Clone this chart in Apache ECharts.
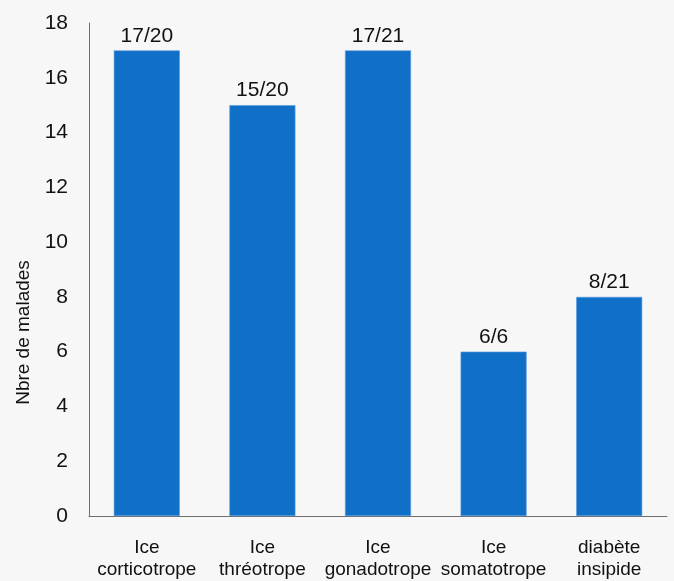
<!DOCTYPE html>
<html>
<head>
<meta charset="utf-8">
<script src="https://cdn.jsdelivr.net/npm/echarts@6/dist/echarts.min.js"></script>
<style>
html,body{margin:0;padding:0;background:#f7f7f7;}
#c{width:674px;height:581px;}
</style>
</head>
<body>
<div id="c"></div>
<script>
const categories = ['Ice\ncorticotrope', 'Ice\nthréotrope', 'Ice\ngonadotrope', 'Ice\nsomatotrope', 'diabète\ninsipide'];
const values = [17, 15, 17, 6, 8];
const barLabels = ['17/20', '15/20', '17/21', '6/6', '8/21'];
const yTicks = [0, 2, 4, 6, 8, 10, 12, 14, 16, 18];

const chart = echarts.init(document.getElementById('c'), null, {renderer: 'canvas'});
chart.setOption({
  backgroundColor: '#f7f7f7',
  animation: false,
  grid: {left: 89, right: 7, top: 23, bottom: 62, containLabel: false},
  xAxis: {
    type: 'category',
    data: categories,
    axisLine: {show: true, lineStyle: {color: '#6e6e6e', width: 1}},
    axisTick: {show: false},
    axisLabel: {
      color: '#111',
      fontFamily: 'Liberation Sans, Arial, sans-serif',
      fontSize: 19,
      lineHeight: 22,
      margin: 21,
      interval: 0
    }
  },
  yAxis: {
    type: 'value',
    min: yTicks[0],
    max: yTicks[yTicks.length - 1],
    interval: 2,
    name: 'Nbre de malades',
    nameLocation: 'middle',
    nameRotate: 90,
    nameGap: 56,
    nameTextStyle: {
      color: '#111',
      fontFamily: 'Liberation Sans, Arial, sans-serif',
      fontSize: 19,
      padding: [0, 126, 0, 0]
    },
    axisLine: {show: true, lineStyle: {color: '#6e6e6e', width: 1}},
    axisTick: {show: false},
    splitLine: {show: false},
    axisLabel: {
      color: '#111',
      fontFamily: 'Liberation Sans, Arial, sans-serif',
      fontSize: 21,
      margin: 21
    }
  },
  series: [{
    type: 'bar',
    data: values,
    barWidth: 66,
    itemStyle: {color: '#106fc6', borderColor: '#5a9be0', borderWidth: 0.6},
    label: {
      show: true,
      position: 'top',
      distance: 4,
      color: '#111',
      fontFamily: 'Liberation Sans, Arial, sans-serif',
      fontSize: 21,
      formatter: p => barLabels[p.dataIndex]
    }
  }]
});
</script>
</body>
</html>
